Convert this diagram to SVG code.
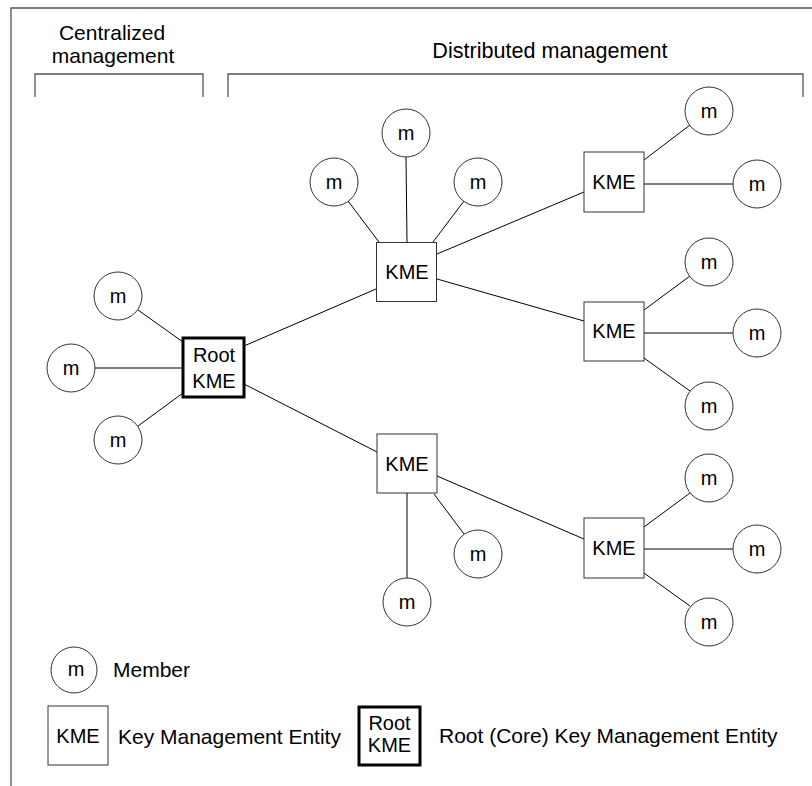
<svg xmlns="http://www.w3.org/2000/svg" width="812" height="786" viewBox="0 0 812 786">
<style>
text{font-family:"Liberation Sans",Arial,sans-serif;fill:#000}
.lbl{font-size:21px}
.nt{font-size:20px;text-anchor:middle}
.mem circle{fill:#fff;stroke:#333;stroke-width:1}
.kme rect{fill:#fff;stroke:#333;stroke-width:1}
.root rect{fill:#fff;stroke:#000;stroke-width:3}
.frame{fill:none;stroke:#555;stroke-width:1.3}
#connectors line{stroke:#000;stroke-width:1}
</style>
<rect width="812" height="786" fill="#fff"/>
<g id="frame">
<path class="frame" d="M11,786 V8 H812"/>
<path class="frame" d="M35,97 V74 H203 V97"/>
<path class="frame" d="M228,97 V74 H803 V97"/>
<text class="lbl" x="112" y="40" text-anchor="middle">Centralized</text>
<text class="lbl" x="113" y="63" text-anchor="middle">management</text>
<text class="lbl" x="550" y="58" text-anchor="middle" style="font-size:21.6px">Distributed management</text>
</g>
<g id="connectors">
<line x1="138" y1="310" x2="183" y2="342"/>
<line x1="95" y1="368" x2="183" y2="368"/>
<line x1="138" y1="426" x2="183" y2="393"/>
<line x1="244" y1="346" x2="376" y2="289"/>
<line x1="244" y1="384" x2="377" y2="452"/>
<line x1="406" y1="157" x2="407" y2="242"/>
<line x1="348" y1="201" x2="379" y2="242"/>
<line x1="464" y1="201" x2="433" y2="242"/>
<line x1="437" y1="254" x2="584" y2="192"/>
<line x1="437" y1="279" x2="584" y2="321"/>
<line x1="644" y1="160" x2="690" y2="125"/>
<line x1="644" y1="184" x2="733" y2="184"/>
<line x1="644" y1="310" x2="690" y2="276"/>
<line x1="644" y1="333" x2="733" y2="333"/>
<line x1="644" y1="358" x2="690" y2="391"/>
<line x1="407" y1="493" x2="407" y2="578"/>
<line x1="434" y1="494" x2="464" y2="534"/>
<line x1="437" y1="476" x2="584" y2="539"/>
<line x1="644" y1="527" x2="690" y2="493"/>
<line x1="644" y1="549" x2="733" y2="549"/>
<line x1="644" y1="573" x2="690" y2="606"/>
</g>
<g id="root" class="root"><rect x="183" y="338" width="61" height="59"/><text class="nt" x="214" y="362">Root</text><text class="nt" x="214" y="388">KME</text></g>
<g id="kme1" class="kme"><rect x="376.5" y="242.5" width="60" height="59"/><text class="nt" x="407" y="279">KME</text></g>
<g id="kme2" class="kme"><rect x="377" y="434" width="60" height="59"/><text class="nt" x="407" y="471">KME</text></g>
<g id="kme3" class="kme"><rect x="584" y="152" width="60" height="60"/><text class="nt" x="614" y="189">KME</text></g>
<g id="kme4" class="kme"><rect x="584" y="302" width="60" height="59"/><text class="nt" x="614" y="338">KME</text></g>
<g id="kme5" class="kme"><rect x="584" y="518" width="60" height="60"/><text class="nt" x="614" y="555">KME</text></g>
<g id="m1" class="mem"><circle cx="118" cy="296" r="24"/><text class="nt" x="118" y="303">m</text></g>
<g id="m2" class="mem"><circle cx="71" cy="368" r="24"/><text class="nt" x="71" y="375">m</text></g>
<g id="m3" class="mem"><circle cx="118" cy="440" r="24"/><text class="nt" x="118" y="447">m</text></g>
<g id="m4" class="mem"><circle cx="406" cy="133" r="24"/><text class="nt" x="406" y="140">m</text></g>
<g id="m5" class="mem"><circle cx="334" cy="182" r="24"/><text class="nt" x="334" y="189">m</text></g>
<g id="m6" class="mem"><circle cx="478" cy="182" r="24"/><text class="nt" x="478" y="189">m</text></g>
<g id="m7" class="mem"><circle cx="709" cy="111" r="24"/><text class="nt" x="709" y="118">m</text></g>
<g id="m8" class="mem"><circle cx="757" cy="184" r="24"/><text class="nt" x="757" y="191">m</text></g>
<g id="m9" class="mem"><circle cx="709" cy="262" r="24"/><text class="nt" x="709" y="269">m</text></g>
<g id="m10" class="mem"><circle cx="757" cy="333" r="24"/><text class="nt" x="757" y="340">m</text></g>
<g id="m11" class="mem"><circle cx="709" cy="406" r="24"/><text class="nt" x="709" y="413">m</text></g>
<g id="m12" class="mem"><circle cx="478" cy="554" r="24"/><text class="nt" x="478" y="561">m</text></g>
<g id="m13" class="mem"><circle cx="407" cy="602" r="24"/><text class="nt" x="407" y="609">m</text></g>
<g id="m14" class="mem"><circle cx="709" cy="478" r="24"/><text class="nt" x="709" y="485">m</text></g>
<g id="m15" class="mem"><circle cx="757" cy="549" r="24"/><text class="nt" x="757" y="556">m</text></g>
<g id="m16" class="mem"><circle cx="709" cy="622" r="24"/><text class="nt" x="709" y="629">m</text></g>
<g id="legend">
<g id="leg-member" class="mem"><circle cx="74" cy="670" r="23"/><text class="nt" x="76" y="676">m</text></g>
<text class="lbl" x="113" y="677">Member</text>
<g id="leg-kme" class="kme"><rect x="48" y="706" width="60" height="59"/><text class="nt" x="78" y="743">KME</text></g>
<text class="lbl" x="118" y="744">Key Management Entity</text>
<g id="leg-root" class="root"><rect x="359" y="707" width="61" height="58"/><text class="nt" x="389.5" y="730">Root</text><text class="nt" x="389.5" y="752">KME</text></g>
<text class="lbl" x="439" y="743">Root (Core) Key Management Entity</text>
</g>
</svg>
